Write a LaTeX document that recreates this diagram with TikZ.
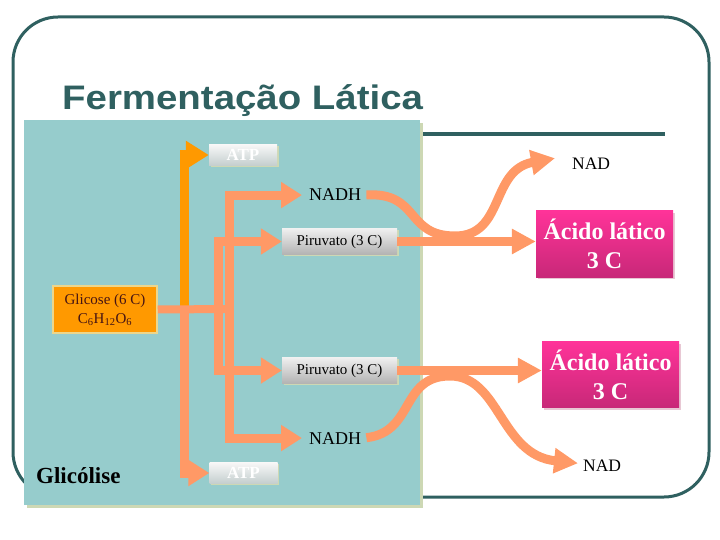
\documentclass[tikz,border=0pt]{standalone}
\usepackage{fontspec}
\setmainfont{Liberation Serif}
\newfontfamily\titlefont[FakeStretch=1.13]{Liberation Sans}
\usetikzlibrary{arrows.meta, positioning, calc, shadows}
\definecolor{frameTeal}{RGB}{47,96,96}
\definecolor{panelTeal}{RGB}{150,204,204}
\definecolor{panelShadow}{RGB}{205,216,180}
\definecolor{pipeSalmon}{RGB}{255,153,102}
\definecolor{pipeOrange}{RGB}{255,153,0}
\definecolor{acidTop}{RGB}{255,51,153}
\definecolor{acidBottom}{RGB}{200,40,120}
\definecolor{acidShadow}{RGB}{232,200,212}
\definecolor{atpBottom}{RGB}{196,206,206}
\definecolor{glcEdge}{RGB}{236,214,140}
\definecolor{glcText}{RGB}{70,20,20}

\begin{document}
\begin{tikzpicture}[x=1pt, y=-1pt,
    pipe/.style={draw=pipeSalmon, line width=9pt, line join=miter},
    tipS/.style={-{Triangle[length=21pt, width=25pt]}},
    tipL/.style={-{Triangle[length=24pt, width=24pt]}},
    greybox/.style={top color=gray!12, bottom color=gray!60, minimum width=115pt, minimum height=26pt, inner sep=0pt,
      font=\fontsize{15}{15}\selectfont, drop shadow={shadow xshift=1.5pt, shadow yshift=-1.5pt, fill=panelShadow, opacity=1}},
    atpbox/.style={top color=gray!6, bottom color=atpBottom, minimum width=68pt, minimum height=21pt, inner sep=0pt,
      text=white, font=\fontsize{17}{17}\selectfont\bfseries, drop shadow={shadow xshift=1.5pt, shadow yshift=-1.5pt, fill=panelShadow, opacity=1}},
    acidbox/.style={top color=acidTop, bottom color=acidBottom, minimum width=137pt, minimum height=66pt, inner sep=0pt,
      align=center, text=white, font=\fontsize{24}{29}\selectfont\bfseries, drop shadow={shadow xshift=2pt, shadow yshift=-2pt, fill=acidShadow, opacity=1}},
    chemtext/.style={anchor=base west, inner sep=2pt, font=\fontsize{18}{18}\selectfont}]
  \useasboundingbox (0,0) rectangle (720,540);
  % Frame and title
  \draw[frameTeal, line width=3pt, rounded corners=45pt] (13,17) rectangle (709,497);
  \draw[frameTeal, line width=4pt] (62,134) -- (665,134);
  \fill[panelShadow] (27,123) rectangle (423,508);
  \fill[panelTeal] (24,120) rectangle (420,505);
  \node[anchor=base west, inner sep=0pt, text=frameTeal, font=\titlefont\bfseries\fontsize{34}{34}\selectfont] (title) at (62,110) {Fermentação Lática};
  % Boxes
  \node[draw=glcEdge, line width=1.5pt, fill=pipeOrange, minimum width=104pt, minimum height=47pt, inner sep=0pt, align=center,
    text=glcText, font=\fontsize{15}{19}\selectfont] (glc) at (105,309.5) {Glicose (6 C)\\C\textsubscript{6}H\textsubscript{12}O\textsubscript{6}};
  \node[atpbox] (atpTop) at (243,155) {ATP};
  \node[atpbox] (atpBot) at (243.5,473) {ATP};
  \node[greybox] (piru1) at (339.5,241.5) {Piruvato (3 C)};
  \node[greybox] (piru2) at (339.5,370.5) {Piruvato (3 C)};
  \node[chemtext] (nadh1) at (307,201) {NADH};
  \node[chemtext] (nadh2) at (307,444) {NADH};
  \node[chemtext, font=\fontsize{17.5}{17.5}\selectfont] (nad1) at (570,170) {NAD};
  \node[chemtext, font=\fontsize{17.5}{17.5}\selectfont] (nad2) at (581,471) {NAD};
  \node[acidbox] (acid1) at (604.5,244) {Ácido lático\\3 C};
  \node[acidbox] (acid2) at (610.5,374.5) {Ácido lático\\3 C};
  \node[anchor=base west, inner sep=0pt, font=\fontsize{23}{23}\selectfont\bfseries] (glicolise) at (36,483) {Glicólise};
  % Glycolysis pipes
  \coordinate (jAtp) at (184,309);
  \coordinate (jPir) at (218,309);
  \coordinate (jNad) at (229.5,309);
  \draw[pipe, draw=pipeOrange, -{Triangle[length=23pt, width=27pt]}] (jAtp) |- (atpTop.west);
  \draw[pipe, tipS] (jAtp) |- (atpBot.west);
  \draw[pipe, line width=8pt] (glc.east) -- (jNad);
  \draw[pipe, tipS] (jPir) |- (piru1.west);
  \draw[pipe, tipS] (jPir) |- (piru2.west);
  \draw[pipe, tipS, shorten >=5pt] (jNad) |- (nadh1.west);
  \draw[pipe, tipS, shorten >=5pt] (jNad) |- (nadh2.west);
  % Fermentation arrows
  \draw[pipe, tipL, shorten <=3pt] (nadh1.east) .. controls (420,192) and (405,236) .. (455,236)
    .. controls (505,236) and (490,170) .. ($(nad1.west)+(-15,-6)$);
  \draw[pipe, tipL, shorten <=3pt] (nadh2.east) .. controls (415,432) and (400,376) .. (450,376)
    .. controls (500,376) and (500,455) .. ($(nad2.west)+(-3,-2)$);
  \draw[pipe, tipL] (piru1.east) -- (piru1.east -| acid1.west);
  \draw[pipe, tipL] (piru2.east) -- (piru2.east -| acid2.west);
\end{tikzpicture}
\end{document}
